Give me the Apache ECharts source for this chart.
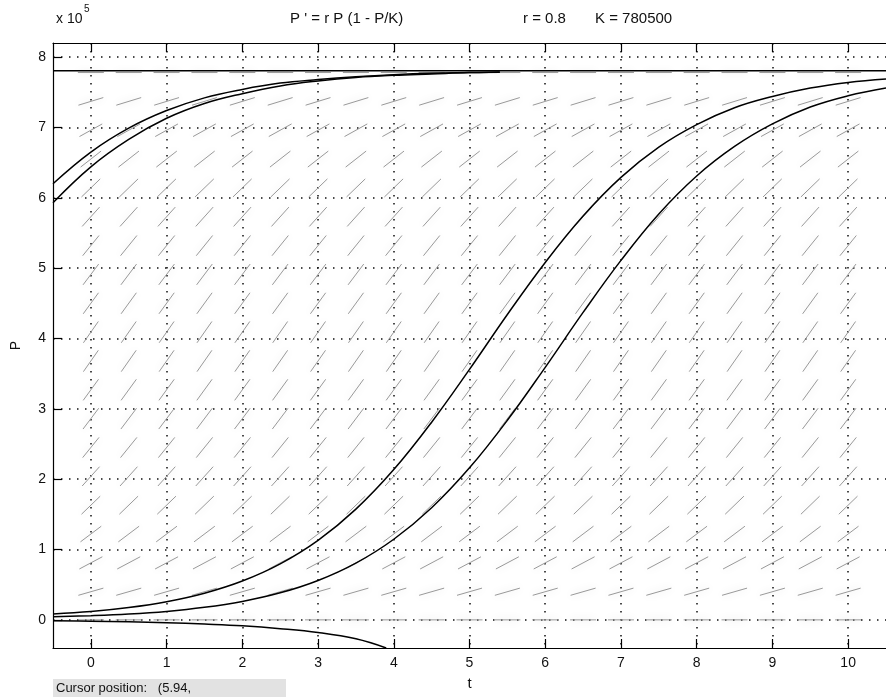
<!DOCTYPE html>
<html>
<head>
<meta charset="utf-8">
<script src="https://cdn.jsdelivr.net/npm/echarts@6/dist/echarts.min.js"></script>
<style>
  html, body { margin: 0; padding: 0; background: #fff; }
  #main { width: 886px; height: 697px; }
</style>
</head>
<body>
<div id="main"></div>
<script>
// tick labels
var xTicks = [0, 1, 2, 3, 4, 5, 6, 7, 8, 9, 10];
var yTicks = [0, 100000, 200000, 300000, 400000, 500000, 600000, 700000, 800000];

var K = 780500;

// solution curves
var tTop = [-0.5, 0, 0.5, 1, 1.5, 2, 2.5, 3, 3.5, 4, 4.5, 5, 5.4];
var pTopA = [620000, 665000, 699000, 724000, 742000, 754000, 763000, 768000, 772000, 775000, 777000, 778000, 778700];
var pTopB = [593000, 644000, 683000, 713000, 734000, 748000, 759000, 766000, 771000, 774000, 776000, 778000, 778500];

var tFull = [-0.5, 0, 0.5, 1, 1.5, 2, 2.5, 3, 3.5, 4, 4.5, 5, 5.5, 6, 6.5, 7, 7.5, 8, 8.5, 9, 9.5, 10, 10.5];
var pSLeft = [8500, 11800, 17500, 25800, 37900, 55200, 79600, 113000, 157400, 213600, 281000, 356000, 434000, 508000, 574000, 629000, 672000, 704000, 728000, 744000, 756000, 764000, 769000];
var pSRight = [4500, 6000, 8300, 12000, 17800, 26200, 38400, 56000, 80700, 114600, 159400, 216100, 283700, 359000, 437000, 511000, 577000, 631000, 673000, 705000, 729000, 745000, 756000];

var tNeg = [-0.5, 0, 0.5, 1, 1.5, 2, 2.5, 3, 3.5, 3.9];
var pNeg = [-1200, -1800, -2700, -4000, -6000, -8500, -12500, -18000, -27000, -40000];

var tEq = [-0.5, 10.5];
var pEq = [K, K];

// slope field: columns (t), rows (P) and the on-screen angle of the marks per row (degrees)
var fieldT = [0, 0.5, 1, 1.5, 2, 2.5, 3, 3.5, 4, 4.5, 5, 5.5, 6, 6.5, 7, 7.5, 8, 8.5, 9, 9.5, 10];
var fieldP = [778000, 737000, 696000, 655000, 614000, 573000, 532000, 491000, 450000, 409000,
              368000, 327000, 286000, 245000, 204000, 163000, 122000, 81000, 40000, 0];
var fieldAngle = [0, 17, 29, 38, 44, 48, 51, 53, 54, 55, 55, 54, 53, 51, 48, 44, 37, 28, 16, 0];

function zip(xs, ys) {
  return xs.map(function (x, i) { return [x, ys[i]]; });
}

var fieldData = [];
fieldP.forEach(function (p, r) {
  fieldT.forEach(function (t) {
    fieldData.push([t, p, fieldAngle[r]]);
  });
});

var FONT = 'Liberation Sans';
var txt = { fontFamily: FONT, fontSize: 15, fontWeight: 'normal', color: '#111' };

var myChart = echarts.init(document.getElementById('main'));

function curve(data) {
  return {
    type: 'line',
    data: data,
    showSymbol: false,
    smooth: 0.4,
    lineStyle: { color: '#000', width: 1.5 },
    z: 5,
    silent: true
  };
}

var option = {
  backgroundColor: '#fff',
  animation: false,
  title: [
    { text: "P ' = r P (1 - P/K)", left: 285, top: 6, textStyle: txt },
    { text: 'r = 0.8', left: 518, top: 6, textStyle: txt },
    { text: 'K = 780500', left: 590, top: 6, textStyle: txt }
  ],
  graphic: [
    { type: 'text', left: 56, top: 12,
      style: { text: 'x 10', fontFamily: FONT, fontSize: 14, fill: '#111' } },
    { type: 'text', left: 84, top: 4,
      style: { text: '5', fontFamily: FONT, fontSize: 10, fill: '#111' } },
    { type: 'rect', shape: { x: 53, y: 679, width: 233, height: 18 },
      style: { fill: '#e2e2e2' } },
    { type: 'text', left: 56, top: 682,
      style: { text: 'Cursor position:   (5.94,', fontFamily: FONT, fontSize: 13, fill: '#111' } }
  ],
  grid: { left: 53, top: 43, right: -6, bottom: 49 },
  xAxis: [{
    type: 'value', min: -0.5, max: 10.5,
    name: 't', nameLocation: 'middle', nameGap: 28,
    nameTextStyle: { fontFamily: FONT, fontSize: 15, color: '#111' },
    axisLine: { onZero: false, lineStyle: { color: '#000', width: 1.2 } },
    axisTick: { inside: true, length: 9, customValues: xTicks, lineStyle: { color: '#000', width: 1.2 } },
    axisLabel: { customValues: xTicks, margin: 8, fontFamily: FONT, fontSize: 14, color: '#111' },
    splitLine: { show: true, lineStyle: { color: '#111', width: 1.5, type: [1.5, 6.5] } }
  }, {
    type: 'value', min: -0.5, max: 10.5, position: 'top',
    axisLine: { onZero: false, lineStyle: { color: '#000', width: 1.2 } },
    axisTick: { inside: true, length: 9, customValues: xTicks, lineStyle: { color: '#000', width: 1.2 } },
    axisLabel: { show: false },
    splitLine: { show: false }
  }],
  yAxis: [{
    type: 'value', min: -40000, max: 820000,
    name: 'P', nameLocation: 'middle', nameGap: 30, nameRotate: 90,
    nameTextStyle: { fontFamily: FONT, fontSize: 14, color: '#111' },
    axisLine: { show: true, onZero: false, lineStyle: { color: '#000', width: 1.2 } },
    axisTick: { show: true, inside: true, length: 9, customValues: yTicks, lineStyle: { color: '#000', width: 1.2 } },
    axisLabel: { customValues: yTicks, margin: 7, fontFamily: FONT, fontSize: 14, color: '#111',
                 formatter: function (v) { return String(v / 100000); } },
    splitLine: { show: true, lineStyle: { color: '#111', width: 1.5, type: [1.5, 6.5] } }
  }],
  series: [
    {
      type: 'custom',
      data: fieldData,
      silent: true,
      z: 2,
      renderItem: function (params, api) {
        var c = api.coord([api.value(0), api.value(1)]);
        var a = api.value(2) * Math.PI / 180;
        var h = 13;
        var dx = Math.cos(a) * h, dy = Math.sin(a) * h;
        return {
          type: 'line',
          shape: { x1: c[0] - dx, y1: c[1] + dy, x2: c[0] + dx, y2: c[1] - dy },
          style: { stroke: '#999', lineWidth: 1,
                   shadowColor: 'rgba(0,0,0,0.2)', shadowBlur: 8 }
        };
      }
    },
    curve(zip(tEq, pEq)),
    curve(zip(tTop, pTopA)),
    curve(zip(tTop, pTopB)),
    curve(zip(tFull, pSLeft)),
    curve(zip(tFull, pSRight)),
    curve(zip(tNeg, pNeg))
  ]
};
myChart.setOption(option);
</script>
</body>
</html>
